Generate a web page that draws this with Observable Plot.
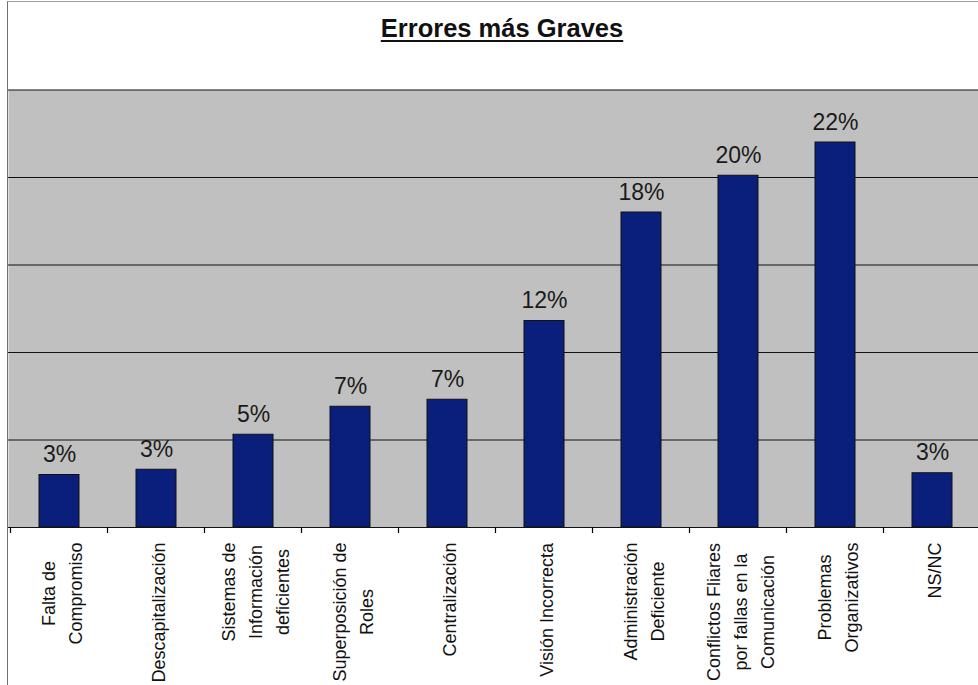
<!DOCTYPE html>
<html>
<head>
<meta charset="utf-8">
<script src="https://cdn.jsdelivr.net/npm/d3@7"></script>
<script src="https://cdn.jsdelivr.net/npm/@observablehq/plot@0.6"></script>
<style>
  html, body { margin: 0; padding: 0; background: #fff; overflow: hidden; }
  #wrap { position: relative; width: 978px; height: 685px; overflow: hidden; font-family: "Liberation Sans", Arial, sans-serif; }
  #title { position: absolute; top: 14px; left: 8px; width: 988px; text-align: center; font-weight: bold; font-size: 25.5px; text-decoration: underline; text-decoration-thickness: 2px; text-underline-offset: 3px; color: #111; }
  #border { position: absolute; left: 7px; top: 1px; width: 980px; height: 700px; border-left: 1.5px solid #707070; border-top: 1px solid #a0a0a0; pointer-events: none; }
  svg { display: block; }
</style>
</head>
<body>
<div id="wrap">
  <div id="chart"></div>
  <div id="title">Errores más Graves</div>
  <div id="border"></div>
</div>
<script>
const categories = [
  "Falta de\nCompromiso",
  "Descapitalización",
  "Sistemas de\nInformación\ndeficientes",
  "Superposición de\nRoles",
  "Centralización",
  "Visión Incorrecta",
  "Administración\nDeficiente",
  "Conflictos Fliares\npor fallas en la\nComunicación",
  "Problemas\nOrganizativos",
  "NS/NC"
];
const values = [3.0, 3.3, 5.3, 6.9, 7.3, 11.8, 18.0, 20.1, 22.0, 3.1];
const valueLabels = ["3%", "3%", "5%", "7%", "7%", "12%", "18%", "20%", "22%", "3%"];
const gridTicks = [0, 5, 10, 15, 20, 25];

const data = categories.map((c, i) => ({cat: c, value: values[i], label: valueLabels[i]}));

const font = '"Liberation Sans", Arial, sans-serif';

const bandTicks = (index, scales, values, dims) => {
  const g = d3.create("svg:g");
  const x = scales.x;
  const step = x.step();
  const bw = x.bandwidth();
  const y0 = dims.height - dims.marginBottom;
  const doms = x.domain();
  const edges = doms.map(d => x(d) - (step - bw) / 2);
  edges.push(x(doms[doms.length - 1]) + bw + (step - bw) / 2);
  g.selectAll("line").data(edges).join("line")
    .attr("x1", d => d).attr("x2", d => d)
    .attr("y1", y0).attr("y2", y0 + 6)
    .attr("stroke", "#000").attr("stroke-width", 1.2);
  return g.node();
};

const chart = Plot.plot({
  width: 978,
  height: 685,
  marginLeft: 8,
  marginRight: -4,
  marginTop: 89.5,
  marginBottom: 158,
  style: {fontFamily: font, background: "transparent"},
  x: {domain: categories, paddingInner: 0.59, paddingOuter: 0.295, axis: null},
  y: {domain: [0, 25], axis: null},
  marks: [
    Plot.frame({fill: "#c0c0c0", stroke: null}),
    Plot.ruleY(gridTicks, {stroke: "#111", strokeWidth: 1.2}),
    Plot.barY(data, {x: "cat", y: "value", fill: "#0a1e7c", stroke: "#111", strokeWidth: 1}),
    Plot.text(data, {x: "cat", y: "value", text: "label", dy: -13, lineAnchor: "bottom", fontSize: 23, fill: "#1a1a1a"}),
    bandTicks,
    Plot.text(data, {
      x: "cat", text: "cat", frameAnchor: "bottom", dy: 15, rotate: -90,
      textAnchor: "end", lineAnchor: "middle", lineHeight: 1.5, fontSize: 18, fill: "#111"
    })
  ]
});

document.getElementById("chart").appendChild(chart);

// center the lines of each multi-line category label on its longest line
chart.querySelectorAll("text").forEach(t => {
  const tr = t.getAttribute("transform") || "";
  if (!tr.includes("rotate")) return;
  const w = t.getBBox().width;
  t.setAttribute("text-anchor", "middle");
  t.setAttribute("transform", tr + ` translate(${-w / 2},0)`);
});
</script>
</body>
</html>
